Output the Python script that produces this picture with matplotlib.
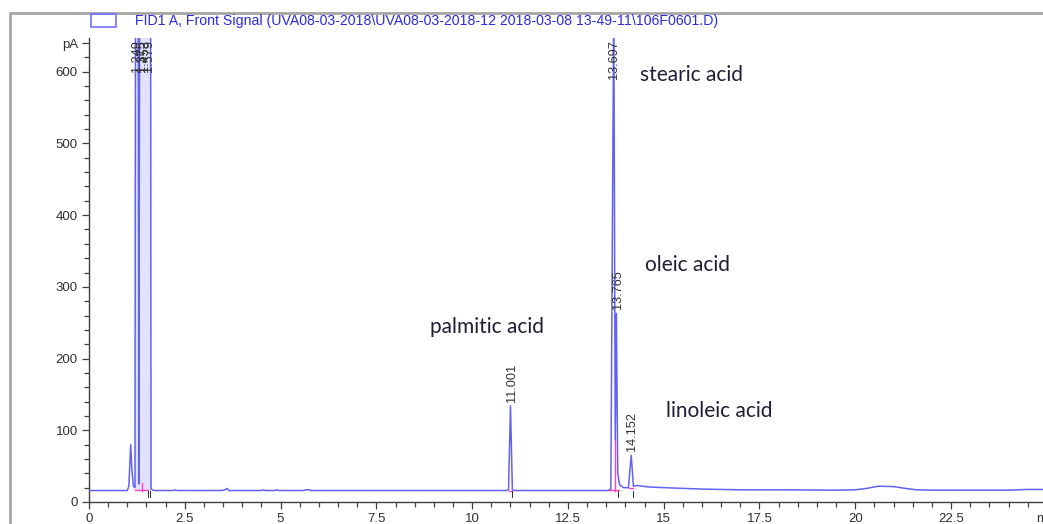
import numpy as np
import matplotlib
matplotlib.use("Agg")
import matplotlib.pyplot as plt
from matplotlib.patches import Rectangle
from matplotlib.ticker import MultipleLocator

# FID trace, retention time [min] vs signal [pA]
trace_t = [0.0, 1.00, 1.04, 1.088, 1.12, 1.16, 1.20, 1.249, 1.30, 1.375, 1.41,
           1.453, 1.51, 1.579, 1.62, 1.70, 2.20, 2.25, 2.30, 3.45, 3.55, 3.60,
           3.65, 4.50, 4.55, 4.60, 4.85, 4.90, 4.95, 5.60, 5.65, 5.70, 5.75,
           5.80, 10.90, 10.95, 11.001, 11.05, 11.10, 13.55, 13.62, 13.697,
           13.735, 13.765, 13.80, 13.85, 13.95, 14.08, 14.152, 14.21, 14.30,
           14.60, 15.00, 15.50, 16.00, 17.00, 18.00, 19.50, 20.00, 20.30,
           20.60, 21.00, 21.30, 21.60, 22.00, 23.00, 24.00, 24.50, 25.50]
trace_pA = [16, 16, 22, 80, 45, 22, 20, 2500, 25, 2500, 700,
            2500, 800, 2500, 18, 16, 16, 17, 16, 16, 17, 19,
            16, 16, 17, 16, 16, 17, 16, 16, 17, 17, 17,
            16, 16, 17, 134, 17, 16, 16, 18, 700,
            86, 263, 40, 24, 20, 20, 65, 22, 23,
            21, 20, 19, 18, 17, 17, 16.5, 17, 19,
            22, 21.5, 19, 17, 16.5, 16.5, 16.5, 17.5, 17.5]

# peak table: retention times and label heights
peak_rt = [1.249, 1.375, 1.453, 1.579, 11.001, 13.697, 13.765, 14.152]
peak_top = [2500, 2500, 2500, 2500, 134, 700, 263, 65]

# integration baselines (start, end, level) and drop lines (time, top)
base_segs = [(1.20, 1.55, 17), (10.96, 11.05, 16), (13.58, 13.83, 17), (14.10, 14.20, 19)]
drop_lines = [(1.375, 27), (13.74, 86)]
event_marks = [1.53, 1.60, 11.04, 13.82, 14.21]

compounds = ["stearic acid", "oleic acid", "palmitic acid", "linoleic acid"]
compound_xy = [(14.37, 596), (14.51, 331), (8.90, 244), (15.05, 127)]

fig = plt.figure(figsize=(10.43, 5.24), dpi=100)
ax = fig.add_axes([89 / 1043, 22 / 524, 977 / 1043, 464 / 524])

t = np.array(trace_t)
s = np.array(trace_pA)
solvent = (t >= 1.2) & (t <= 1.62)
ax.fill_between(t, 16, s, where=solvent, color="#e2e2ff", lw=0, zorder=2)
ax.plot(t, s, color="#6262f2", lw=1.1, zorder=3)

for t0, t1, lvl in base_segs:
    ax.plot([t0, t1], [lvl, lvl], color="#ff3fbf", lw=1, zorder=4)
for x, top in drop_lines:
    ax.plot([x, x], [16, top], color="#ff3fbf", lw=1, zorder=4)
for x in event_marks:
    ax.plot([x, x], [7, 15], color="#333333", lw=0.7, zorder=4)

ymax = 647
for rt, top in zip(peak_rt, peak_top):
    if top > 640:
        ax.text(rt, 644, f"{rt:.3f}", rotation=90, ha="center", va="top",
                fontsize=9.2, color="#333333", family="Liberation Sans", zorder=5)
    else:
        ax.text(rt + 0.03, top + 6, f"{rt:.3f}", rotation=90, ha="center", va="bottom",
                fontsize=9.2, color="#333333", family="Liberation Sans", zorder=5)

for name, (x, y) in zip(compounds, compound_xy):
    ax.text(x, y, name, ha="left", va="center", fontsize=15,
            color="#1f1f38", family="Lato")

ax.set_xlim(0, 25.5)
ax.set_ylim(0, ymax)

xt = [0, 2.5, 5, 7.5, 10, 12.5, 15, 17.5, 20, 22.5, 25]
ax.set_xticks(xt)
ax.set_xticklabels(["0", "2.5", "5", "7.5", "10", "12.5", "15", "17.5", "20", "22.5", "min"])
ax.xaxis.set_minor_locator(MultipleLocator(0.5))
yt = [0, 100, 200, 300, 400, 500, 600, 640]
ax.set_yticks(yt)
ax.set_yticklabels(["0", "100", "200", "300", "400", "500", "600", "pA"])
ax.yaxis.set_minor_locator(MultipleLocator(20))

ax.tick_params(which="major", direction="out", length=5, width=0.9, color="#404040",
               labelsize=9.5, labelcolor="#303030", pad=3)
ax.tick_params(which="minor", direction="out", length=3.5, width=0.9, color="#404040")
for lbl in ax.get_xticklabels() + ax.get_yticklabels():
    lbl.set_family("Liberation Sans")

for side in ["top", "right"]:
    ax.spines[side].set_visible(False)
for side in ["left", "bottom"]:
    ax.spines[side].set_color("#404040")
    ax.spines[side].set_linewidth(1)

# window frame and signal legend
fig.add_artist(Rectangle((10 / 1043, -0.2), 1.2, 1 - 13 / 524 + 0.2, transform=fig.transFigure,
                         fill=False, edgecolor="#a6a6a6", lw=2))
fig.add_artist(Rectangle((91 / 1043, 1 - 27 / 524), 25 / 1043, 13 / 524, transform=fig.transFigure,
                         fill=False, edgecolor="#7272ff", lw=1.2))
fig.text(135 / 1043, 1 - 20.5 / 524,
         "FID1 A, Front Signal (UVA08-03-2018\\UVA08-03-2018-12 2018-03-08 13-49-11\\106F0601.D)",
         ha="left", va="center", fontsize=10.2, color="#2a2ae6", family="Liberation Sans")

fig.savefig("out.png", dpi=100)
